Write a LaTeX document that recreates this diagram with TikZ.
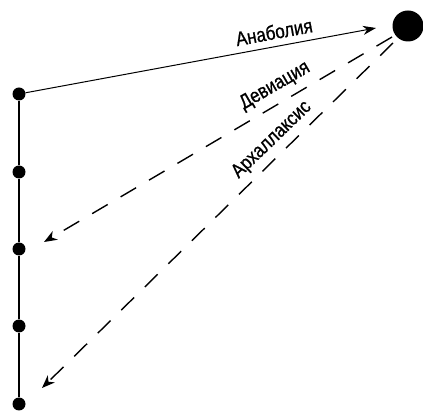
\documentclass[tikz,border=0pt]{standalone}
\usepackage{fontspec}
\setmainfont[FakeStretch=0.85,FakeBold=0.8]{Liberation Sans}
\usetikzlibrary{arrows.meta}
\begin{document}
\begin{tikzpicture}[x=1pt,y=-1pt,
  dot/.style={circle,fill=black,inner sep=0pt,minimum size=13pt},
  bigdot/.style={circle,fill=black,inner sep=0pt,minimum size=31pt},
  lab/.style={font=\fontsize{20}{22}\selectfont,inner sep=0pt},
  dasharrow/.style={line width=1.4pt,dash pattern=on 18pt off 15pt,-{Stealth[length=13pt,width=10pt,inset=4pt]}},
  solidarrow/.style={line width=1pt,-{Stealth[length=13pt,width=9pt,inset=4pt]}}]
\useasboundingbox (0,0) rectangle (423,411);
\node[bigdot] (big) at (408,26) {};
\node[dot] (d1) at (19,94) {};
\node[dot] (d2) at (19,172) {};
\node[dot] (d3) at (19,249) {};
\node[dot] (d4) at (19,326) {};
\node[dot] (d5) at (19,404) {};
\draw[line width=2pt] (d1) -- (d2) -- (d3) -- (d4) -- (d5);
\coordinate (a1) at (376,28);
\coordinate (s1) at (392,37);
\coordinate (e1) at (44,242);
\coordinate (s2) at (393,43);
\coordinate (e2) at (42,388);
\draw[solidarrow] (d1) -- (a1);
\draw[dasharrow] (s1) -- (e1);
\draw[dasharrow] (s2) -- (e2);
\node[lab,rotate=10.5] (t1) at (274,32) {Анаболия};
\node[lab,rotate=30] (t2) at (275,86) {Девиация};
\node[lab,rotate=44] (t3) at (272,140) {Архаллаксис};
\end{tikzpicture}
\end{document}
